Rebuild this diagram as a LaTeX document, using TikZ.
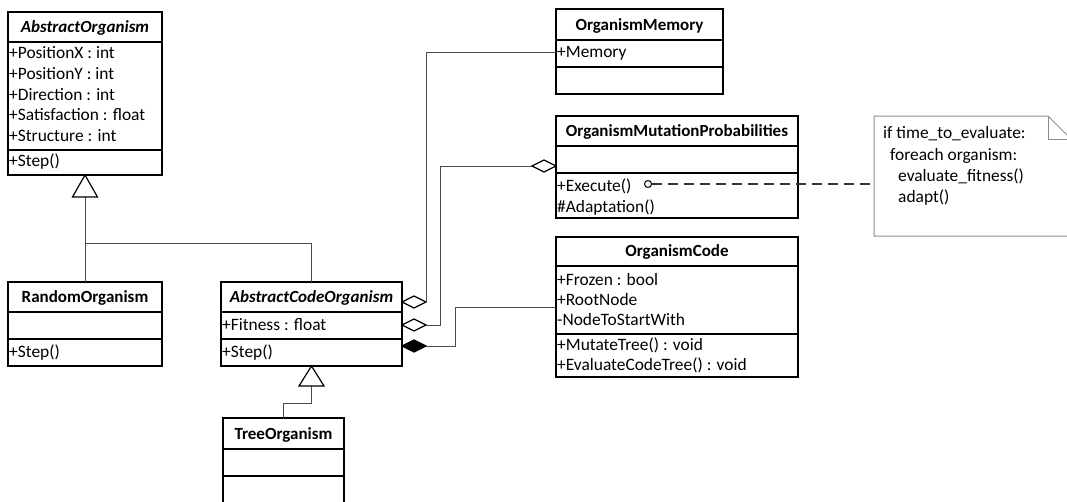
\documentclass[tikz,border=0pt]{standalone}
\usepackage{fontspec}
\setmainfont{Carlito}
\usetikzlibrary{shapes.geometric,calc}
\begin{document}
\begin{tikzpicture}[x=1pt,y=-1pt,
  font=\fontsize{17.4}{20.8}\selectfont,
  frame/.style={draw=black, line width=1.3pt},
  classbox/.style={frame, rectangle, inner sep=0pt, outer sep=0pt, anchor=north west},
  ttl/.style={anchor=base, inner sep=0pt, font=\fontsize{17}{20.8}\selectfont\bfseries},
  attl/.style={anchor=base, inner sep=0pt, font=\fontsize{17}{20.8}\selectfont\bfseries\itshape},
  mbr/.style={anchor=base west, inner sep=0pt},
  conn/.style={draw=black!70, line width=1pt},
  aggr/.style={diamond, draw=black, line width=1.2pt, fill=white, inner sep=0pt, outer sep=0pt,
    minimum width=24pt, minimum height=12pt, aspect=2},
  comp/.style={aggr, fill=black},
  gen/.style={draw=black, line width=1.2pt, fill=white},
  notebox/.style={draw=black!45, line width=1pt},
]
\useasboundingbox (0,0) rectangle (1067,501);
\clip (0,0) rectangle (1067,501);
\fill[white] (0,0) rectangle (1067,501);

% ---------- AbstractOrganism ----------
\node[classbox, minimum width=154pt, minimum height=163pt] (ao) at (8,12) {};
\draw[frame] (ao.west |- 0,42) -- (ao.east |- 0,42);
\draw[frame] (ao.west |- 0,150) -- (ao.east |- 0,150);
\node[attl] (aoName) at (85,32.5) {AbstractOrganism};
\node[mbr] (aoA1) at (9,58.5) {+PositionX : int};
\node[mbr] (aoA2) at (9,79.3) {+PositionY : int};
\node[mbr] (aoA3) at (9,100.1) {+Direction : int};
\node[mbr] (aoA4) at (9,120.9) {+Satisfaction : float};
\node[mbr] (aoA5) at (9,141.7) {+Structure : int};
\node[mbr] (aoO1) at (9,166.5) {+Step()};

% ---------- RandomOrganism ----------
\node[classbox, minimum width=154pt, minimum height=84pt] (ro) at (8,282) {};
\draw[frame] (ro.west |- 0,312) -- (ro.east |- 0,312);
\draw[frame] (ro.west |- 0,339) -- (ro.east |- 0,339);
\node[ttl] (roName) at (85,302.5) {RandomOrganism};
\node[mbr] (roO1) at (9,357.5) {+Step()};

% ---------- AbstractCodeOrganism ----------
\node[classbox, minimum width=181pt, minimum height=84pt] (aco) at (221,282) {};
\draw[frame] (aco.west |- 0,312) -- (aco.east |- 0,312);
\draw[frame] (aco.west |- 0,339) -- (aco.east |- 0,339);
\node[attl] (acoName) at (311.5,302.5) {AbstractCodeOrganism};
\node[mbr] (acoA1) at (222,330.5) {+Fitness : float};
\node[mbr] (acoO1) at (222,357.5) {+Step()};

% ---------- TreeOrganism ----------
\node[classbox, minimum width=121pt, minimum height=100pt] (to) at (223,418) {};
\draw[frame] (to.west |- 0,449) -- (to.east |- 0,449);
\draw[frame] (to.west |- 0,476) -- (to.east |- 0,476);
\node[ttl] (toName) at (283.5,439.5) {TreeOrganism};

% ---------- OrganismMemory ----------
\node[classbox, minimum width=167pt, minimum height=85pt] (omem) at (556,9) {};
\draw[frame] (omem.west |- 0,40) -- (omem.east |- 0,40);
\draw[frame] (omem.west |- 0,67) -- (omem.east |- 0,67);
\node[ttl] (omemName) at (639.5,30.5) {OrganismMemory};
\node[mbr] (omemA1) at (557,57.5) {+Memory};

% ---------- OrganismMutationProbabilities ----------
\node[classbox, minimum width=242pt, minimum height=102pt] (omp) at (556,116) {};
\draw[frame] (omp.west |- 0,146) -- (omp.east |- 0,146);
\draw[frame] (omp.west |- 0,173) -- (omp.east |- 0,173);
\node[ttl] (ompName) at (677,136.5) {OrganismMutationProbabilities};
\node[mbr] (ompO1) at (557,191.5) {+Execute()};
\node[mbr] (ompO2) at (557,212.5) {\#Adaptation()};

% ---------- OrganismCode ----------
\node[classbox, minimum width=242pt, minimum height=140pt] (oc) at (556,237) {};
\draw[frame] (oc.west |- 0,266) -- (oc.east |- 0,266);
\draw[frame] (oc.west |- 0,334) -- (oc.east |- 0,334);
\node[ttl] (ocName) at (677,256.5) {OrganismCode};
\node[mbr] (ocA1) at (557,285.5) {+Frozen : bool};
\node[mbr] (ocA2) at (557,305.5) {+RootNode};
\node[mbr] (ocA3) at (557,325.5) {-NodeToStartWith};
\node[mbr] (ocO1) at (557,350.5) {+MutateTree() : void};
\node[mbr] (ocO2) at (557,370.5) {+EvaluateCodeTree() : void};

% ---------- note ----------
\draw[notebox] (874,116) -- (1048,116) -- (1071,139) -- (1071,236) -- (874,236) -- cycle;
\draw[notebox] (1048,116) -- (1048,139) -- (1071,139);
\coordinate (noteLink) at (874,184);
\node[mbr] (n1) at (883,138.5) {if time\_to\_evaluate:};
\node[mbr] (n2) at (890,160) {foreach organism:};
\node[mbr] (n3) at (898,181) {evaluate\_fitness()};
\node[mbr] (n4) at (898,202) {adapt()};

% ---------- generalisations ----------
\coordinate (aoTriBase) at ($(ao.south)+(0,22)$);
\coordinate (aoJoin) at (85,243);
\draw[conn] (aoTriBase) -- (ro.north);
\draw[conn] (aco.north) |- (aoJoin);
\draw[gen] (ao.south) -- ++(-12.5,22) -- ++(25,0) -- cycle;

\coordinate (acoTriBase) at ($(aco.south)+(0,20)$);
\draw[conn] (acoTriBase) -- ++(0,17) -| (to.north);
\draw[gen] (aco.south) -- ++(-12.5,20) -- ++(25,0) -- cycle;

% ---------- aggregations / composition ----------
\node[aggr, anchor=west] (d1) at (402,302) {};
\node[aggr, anchor=west] (d2) at (402,325) {};
\node[comp, anchor=west] (d3) at (402,346) {};
\node[aggr, anchor=east] (d4) at (556,166) {};
\coordinate (omemLink) at (omem.west |- 0,52);
\coordinate (ocLink) at (oc.west |- 0,307);
\draw[conn] (d1.east) |- (omemLink);
\draw[conn] (d2.east) -- ++(14,0) |- (d4.west);
\draw[conn] (d3.east) -- ++(29,0) |- (ocLink);

% ---------- note link ----------
\node[circle, draw=black, line width=1pt, fill=white, inner sep=0pt, minimum size=7pt] (lolly) at (648,184) {};
\draw[conn, draw=black!80, line width=1.3pt, dash pattern=on 10pt off 6pt] (lolly.east) -- (noteLink);
\end{tikzpicture}
\end{document}
